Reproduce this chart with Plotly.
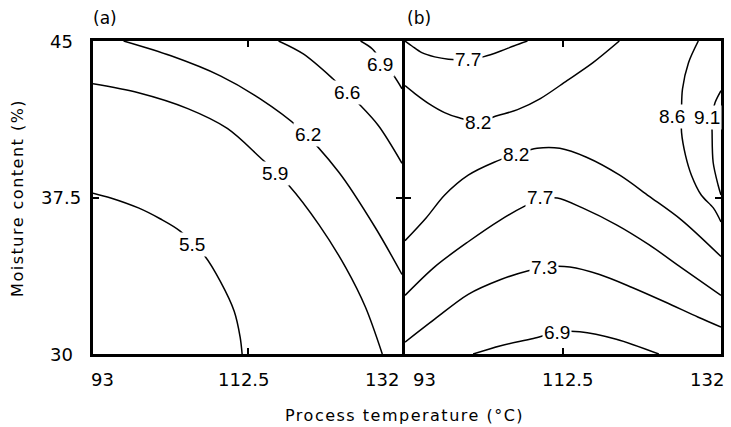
import plotly.graph_objects as go

# ---------------- data ----------------
# axis ticks
TEMP_TICKS = [93, 112.5, 132]
TEMP_TICK_TEXT = ["93", "112.5", "132"]
MOIST_TICKS = [30, 37.5, 45]
MOIST_TICK_TEXT = ["30", "37.5", "45"]

# panel (a) contour lines: temperature (x, °C) / moisture (y, %)
a55_x = [93.0, 95.24, 98.73, 101.47, 103.96, 107.08, 109.07, 110.82, 111.57, 111.82]
a55_y = [37.71, 37.48, 37.0, 36.48, 35.90, 34.71, 33.48, 32.05, 30.81, 30.0]
a59_x = [93.0, 98.73, 104.96, 109.95, 114.06, 117.67, 121.53, 124.90, 127.39, 129.51]
a59_y = [42.95, 42.52, 41.76, 40.81, 39.43, 38.10, 36.19, 34.14, 32.24, 30.0]
a62_x = [96.86, 102.84, 109.07, 114.06, 118.92, 124.03, 128.64, 132.0]
a62_y = [45.0, 44.29, 43.33, 42.24, 40.86, 38.71, 36.05, 33.81]
a66_x = [116.42, 119.54, 123.28, 126.52, 129.01, 132.0]
a66_y = [45.0, 44.38, 43.19, 42.0, 40.95, 39.14]
a69_x = [126.77, 128.26, 129.51, 130.88, 132.0]
a69_y = [45.0, 44.62, 44.0, 43.38, 42.71]

A_LABELS = ["5.5", "5.9", "6.2", "6.6", "6.9"]
A_LABEL_X = [105.46, 115.96, 120.12, 125.02, 129.26]
A_LABEL_Y = [35.27, 38.65, 40.51, 42.51, 43.89]

# panel (b) contour lines
b77t_x = [93.0, 93.85, 95.07, 96.66, 98.36, 100.80, 102.75, 104.82, 106.41, 108.11]
b77t_y = [45.0, 44.76, 44.44, 44.24, 44.13, 44.10, 44.25, 44.52, 44.76, 45.0]
b82u_x = [93.0, 94.22, 95.93, 97.88, 99.58, 102.02, 104.46, 106.89, 109.70, 112.99, 116.16, 119.45]
b82u_y = [42.86, 42.48, 42.0, 41.57, 41.33, 41.14, 41.43, 41.71, 42.24, 43.10, 43.95, 45.0]
b82l_x = [93.0, 95.6, 97.9, 100.8, 104.0, 106.7, 109.3, 112.1, 115.4, 119.5, 123.1, 127.1, 132.0]
b82l_y = [35.43, 36.52, 37.62, 38.57, 39.19, 39.57, 39.86, 39.86, 39.43, 38.57, 37.57, 36.43, 34.67]
b77l_x = [93.0, 96.7, 100.8, 104.8, 107.6, 109.7, 111.8, 114.9, 119.1, 123.1, 127.1, 132.0]
b77l_y = [32.81, 34.19, 35.38, 36.43, 37.05, 37.4, 37.48, 37.0, 36.19, 35.24, 34.14, 32.81]
b73_x = [93.0, 96.66, 100.80, 104.82, 108.11, 110.92, 113.35, 117.01, 121.03, 125.18, 129.20, 132.0]
b73_y = [30.57, 31.67, 32.86, 33.57, 33.98, 34.19, 34.17, 33.81, 33.19, 32.48, 31.76, 31.29]
b69_x = [101.41, 104.82, 108.84, 111.89, 114.57, 119.08, 124.32]
b69_y = [30.0, 30.40, 30.74, 31.05, 31.07, 30.71, 30.0]
b86_x = [129.20, 127.98, 127.25, 127.13, 127.13, 127.62, 128.35, 129.56, 131.05, 132.0]
b86_y = [45.0, 43.95, 42.71, 41.76, 40.62, 39.52, 38.57, 37.62, 37.0, 36.33]
b91_x = [132.0, 131.27, 130.90, 130.90, 131.03, 131.64, 132.0]
b91_y = [42.62, 42.05, 41.43, 40.62, 39.19, 38.10, 37.62]

B_LABELS = ["7.7", "8.2", "8.2", "7.7", "7.3", "6.9", "8.6", "9.1"]
B_LABEL_X = [100.76, 102.06, 106.65, 109.70, 110.18, 111.81, 125.97, 130.29]
B_LABEL_Y = [44.10, 41.11, 39.56, 37.48, 34.16, 31.03, 41.36, 41.35]

# ---------------- figure ----------------
fig = go.Figure()
LINE = dict(color="black", width=1.5, shape="spline", smoothing=0.9)

for xs, ys in [(a55_x, a55_y), (a59_x, a59_y), (a62_x, a62_y), (a66_x, a66_y), (a69_x, a69_y)]:
    fig.add_trace(go.Scatter(x=xs, y=ys, mode="lines", line=LINE, xaxis="x", yaxis="y",
                             hoverinfo="skip", showlegend=False))
for xs, ys in [(b77t_x, b77t_y), (b82u_x, b82u_y), (b82l_x, b82l_y), (b77l_x, b77l_y),
               (b73_x, b73_y), (b69_x, b69_y), (b86_x, b86_y), (b91_x, b91_y)]:
    fig.add_trace(go.Scatter(x=xs, y=ys, mode="lines", line=LINE, xaxis="x2", yaxis="y2",
                             hoverinfo="skip", showlegend=False))

LABEL_FONT = dict(family="Liberation Sans, Arial, sans-serif", size=19, color="black")
TICK_FONT = dict(family="DejaVu Sans, sans-serif", size=18, color="black")
TAG_FONT = dict(family="DejaVu Sans, sans-serif", size=17, color="black")
TITLE_FONT = dict(family="DejaVu Sans, sans-serif", size=16, color="black")

ann = []
for t, x, y in zip(A_LABELS, A_LABEL_X, A_LABEL_Y):
    ann.append(dict(x=x, y=y, xref="x", yref="y", text=t, showarrow=False, font=LABEL_FONT,
                    bgcolor="white", borderpad=1))
for t, x, y in zip(B_LABELS, B_LABEL_X, B_LABEL_Y):
    ann.append(dict(x=x, y=y, xref="x2", yref="y2", text=t, showarrow=False, font=LABEL_FONT,
                    bgcolor="white", borderpad=1))

# x tick labels (both panels)
anchors = ["left", "center", "right"]
shifts_a = [-4, -4, -1]
shifts_b = [6, 5, 5]
for v, t, an, sa, sb in zip(TEMP_TICKS, TEMP_TICK_TEXT, anchors, shifts_a, shifts_b):
    ann.append(dict(x=v, y=0, xref="x", yref="paper", text=t, showarrow=False, font=TICK_FONT,
                    xanchor=an, yanchor="middle", xshift=sa, yshift=-25))
    ann.append(dict(x=v, y=0, xref="x2", yref="paper", text=t, showarrow=False, font=TICK_FONT,
                    xanchor=an, yanchor="middle", xshift=sb, yshift=-25))
# y tick labels
for v, t in zip(MOIST_TICKS, MOIST_TICK_TEXT):
    ann.append(dict(x=-0.0507, y=v, xref="paper", yref="y", text=t, showarrow=False, font=TICK_FONT,
                    xanchor="center", yanchor="middle"))

# panel tags
ann.append(dict(x=0.038, y=1, xref="x domain", yref="paper", yshift=23, text="(a)", showarrow=False,
                font=TAG_FONT, xanchor="center", yanchor="middle"))
ann.append(dict(x=0.045, y=1, xref="x2 domain", yref="paper", yshift=23, text="(b)", showarrow=False,
                font=TAG_FONT, xanchor="center", yanchor="middle"))

# axis titles
ann.append(dict(x=0.496, y=0, xref="paper", yref="paper", yshift=-61, showarrow=False,
                text='<span style="letter-spacing:1.5px">Process temperature (°C)</span>',
                font=TITLE_FONT, xanchor="center", yanchor="middle"))
ann.append(dict(x=-0.1204, y=0.5, xref="paper", yref="paper", showarrow=False, textangle=-90,
                text='<span style="letter-spacing:1.5px">Moisture content (%)</span>',
                font=TITLE_FONT, xanchor="center", yanchor="middle"))

AX = dict(showline=True, linewidth=3, linecolor="black", mirror="ticks", ticks="inside",
          ticklen=6, tickwidth=1.5, tickcolor="black", showgrid=False, zeroline=False,
          showticklabels=False)
PW = 631
fig.update_layout(
    width=731, height=427,
    margin=dict(l=93, r=7, t=41, b=73),
    paper_bgcolor="white", plot_bgcolor="white",
    xaxis=dict(AX, domain=[0, 310.5 / PW], range=[93, 132], tickvals=TEMP_TICKS, anchor="y"),
    xaxis2=dict(AX, domain=[313.5 / PW, 1], range=[93, 132], tickvals=TEMP_TICKS, anchor="y2"),
    yaxis=dict(AX, domain=[0, 1], range=[30, 45], tickvals=MOIST_TICKS, anchor="x"),
    yaxis2=dict(AX, domain=[0, 1], range=[30, 45], tickvals=MOIST_TICKS, anchor="x2"),
    annotations=ann,
)

fig.write_html("out.html")
